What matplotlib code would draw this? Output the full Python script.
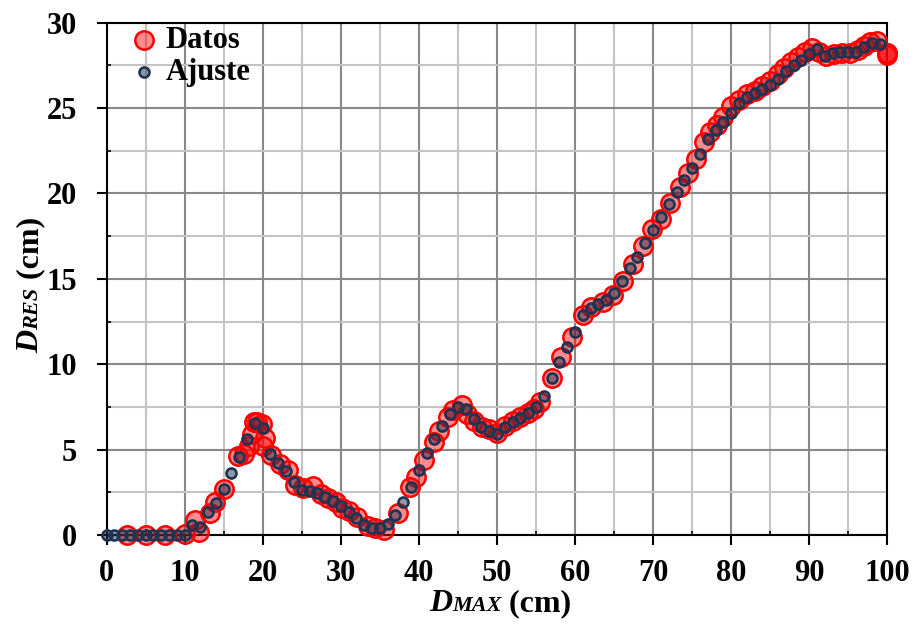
import matplotlib
matplotlib.use("Agg")
import matplotlib.pyplot as plt
from matplotlib.ticker import MultipleLocator

plt.rcParams['font.family'] = ['Liberation Serif', 'DejaVu Serif']
plt.rcParams['font.weight'] = 'bold'

# Ajuste: un punto por cm
ajuste_x = list(range(0, 100))
ajuste_y = [0, 0, 0, 0, 0, 0, 0, 0, 0, 0, 0,
            0.59, 0.49, 1.33, 1.86, 2.69, 3.61, 4.55, 5.62, 6.57, 6.28,
            4.72, 4.20, 3.75, 3.12, 2.65, 2.56, 2.48, 2.24, 2.01, 1.70,
            1.36, 1.01, 0.59, 0.43, 0.39, 0.63, 1.17, 1.95, 2.80, 3.81,
            4.78, 5.62, 6.40, 7.07, 7.48, 7.38, 6.77, 6.34, 6.11, 5.91,
            6.34, 6.63, 6.83, 7.13, 7.51, 8.14, 9.17, 10.15, 10.99, 11.90,
            12.88, 13.27, 13.52, 13.76, 14.15, 14.87, 15.61, 16.29, 17.08, 17.86,
            18.64, 19.38, 20.10, 20.78, 21.47, 22.29, 23.17, 23.71, 24.20, 24.69,
            25.28, 25.63, 25.86, 26.11, 26.35, 26.68, 27.17, 27.52, 27.81, 28.16,
            28.44, 28.04, 28.20, 28.26, 28.26, 28.26, 28.59, 28.82, 28.75]

# Datos medidos
datos_x = [2.6, 5.1, 7.5, 10.0, 11.3, 11.9, 13.3, 13.9, 15.0, 16.9,
           17.6, 18.2, 18.6, 18.9, 19.3, 19.9, 20.1, 20.3, 21.1, 22.2,
           23.3, 24.1, 25.2, 26.5, 27.5, 28.4, 29.4, 30.2, 31.0, 32.1,
           33.5, 34.4, 35.5, 37.3, 38.9, 39.6, 40.6, 41.9, 42.6, 43.7,
           44.4, 45.5, 46.2, 47.1, 48.1, 49.0, 50.0, 51.0, 52.0, 53.0,
           54.0, 54.8, 55.5, 57.0, 58.2, 59.6, 61.0, 62.1, 63.6, 64.9,
           66.1, 67.4, 68.7, 69.9, 71.0, 72.2, 73.4, 74.5, 75.5, 76.5,
           77.3, 78.2, 79.0, 80.0, 81.0, 82.0, 83.0, 84.0, 85.0, 86.0,
           86.8, 87.7, 88.5, 89.4, 90.3, 91.2, 92.2, 93.2, 94.2, 95.2,
           96.2, 97.0, 97.8, 98.7, 100.0, 100.0, 100.0]
datos_y = [0, 0, 0, 0.05, 0.9, 0.2, 1.3, 1.95, 2.7, 4.6,
           4.75, 5.2, 5.9, 6.6, 6.6, 6.5, 5.2, 5.7, 4.7, 4.15,
           3.8, 2.95, 2.75, 2.85, 2.4, 2.15, 1.95, 1.6, 1.4, 1.05,
           0.5, 0.4, 0.3, 1.3, 2.8, 3.4, 4.4, 5.45, 6.1, 6.9,
           7.3, 7.6, 7.1, 6.7, 6.35, 6.2, 5.95, 6.4, 6.65, 6.9,
           7.15, 7.4, 7.8, 9.2, 10.4, 11.6, 12.9, 13.35, 13.65, 14.05,
           14.9, 15.85, 16.9, 17.9, 18.5, 19.45, 20.4, 21.2, 22.0, 23.0,
           23.6, 24.0, 24.5, 25.1, 25.5, 25.8, 26.0, 26.3, 26.6, 27.0,
           27.35, 27.7, 28.0, 28.3, 28.5, 28.3, 28.05, 28.15, 28.2, 28.25,
           28.4, 28.65, 28.85, 28.9, 28.1, 28.2, 28.25]


def etiqueta(fig, cx, cy, partes, vertical=False):
    # texto con partes de distinto tamaño sobre la misma línea base
    r = fig.canvas.get_renderer()
    rot = 90 if vertical else 0
    textos = [fig.text(0, 0, s, rotation=rot, rotation_mode='anchor',
                       ha='left', va='baseline', **p) for s, p in partes]
    largos = []
    for t in textos:
        bb = t.get_window_extent(r)
        largos.append(bb.height if vertical else bb.width)
    W, H = fig.bbox.width, fig.bbox.height
    pos = (cy * H if vertical else cx * W) - sum(largos) / 2
    for t, l in zip(textos, largos):
        if vertical:
            t.set_position((cx, pos / H))
        else:
            t.set_position((pos / W, cy))
        pos += l


fig = plt.figure(figsize=(9.16, 6.25), dpi=100)
ax = fig.add_axes([0.1163, 0.144, 0.8524, 0.8197])

ax.scatter(datos_x, datos_y, s=175, facecolor=(1, 0, 0, 0.45), edgecolor='red',
           linewidth=1.8, label='Datos', clip_on=False, zorder=3)
ax.scatter(ajuste_x, ajuste_y, s=52, facecolor=(0.12, 0.2, 0.32, 0.5),
           edgecolor='#1f3352', linewidth=1.9, label='Ajuste', clip_on=False, zorder=4)

ax.set_xlim(0, 100)
ax.set_ylim(0, 30)
ax.xaxis.set_major_locator(MultipleLocator(10))
ax.xaxis.set_minor_locator(MultipleLocator(5))
ax.yaxis.set_major_locator(MultipleLocator(5))
ax.yaxis.set_minor_locator(MultipleLocator(2.5))

ax.set_axisbelow(True)
ax.grid(which='major', color='#888888', linewidth=1.5)
ax.grid(which='minor', color='#c4c4c4', linewidth=1.5)

ax.tick_params(which='major', direction='out', length=7, width=1.5, labelsize=22)
ax.tick_params(which='minor', direction='in', length=3, width=1.2)
ax.tick_params(axis='x', which='major', pad=10)
ax.tick_params(axis='y', which='major', pad=14)
for sp in ax.spines.values():
    sp.set_linewidth(1.5)

ax.legend(loc='upper left', bbox_to_anchor=(0.025, 1.0), frameon=False,
          fontsize=22, handlelength=1.0, handletextpad=0.2, labelspacing=0.1,
          borderpad=0.1, borderaxespad=0.0)

etiqueta(fig, 0.546, 0.0224, [('D', dict(size=23, style='italic')),
                              ('MAX', dict(size=16, style='italic')),
                              (' (cm)', dict(size=23))])
etiqueta(fig, 0.042, 0.544, [('D', dict(size=23, style='italic')),
                             ('RES', dict(size=16, style='italic')),
                             (' (cm)', dict(size=23))], vertical=True)

fig.savefig('out.png', dpi=100)
